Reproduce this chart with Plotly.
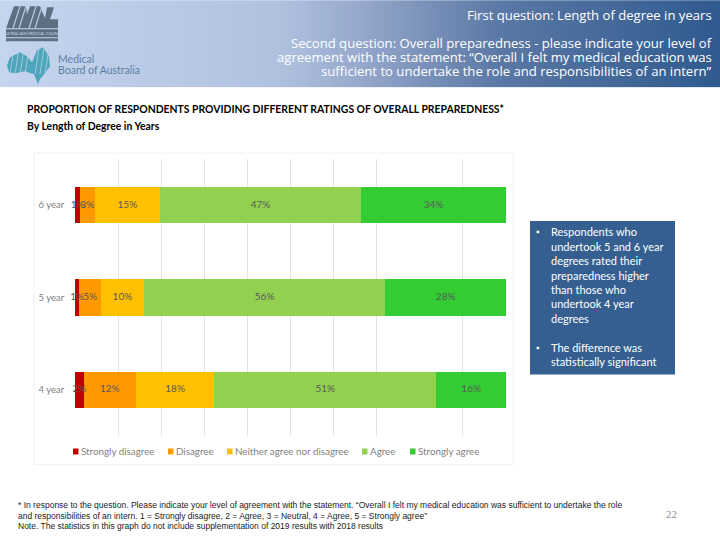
import plotly.graph_objects as go

categories = ["4 year", "5 year", "6 year"]
series_names = ["Strongly disagree", "Disagree", "Neither agree nor disagree", "Agree", "Strongly agree"]
strongly_disagree = [2, 1, 1.2]
disagree = [12, 5, 3.4]
neutral = [18, 10, 15.1]
agree = [51, 56, 46.7]
strongly_agree = [16, 28, 33.6]
series_values = [strongly_disagree, disagree, neutral, agree, strongly_agree]
colors = ["#C00000", "#FF9900", "#FFC000", "#92D050", "#33CC33"]
grid_ticks = [0, 10, 20, 30, 40, 50, 60, 70, 90]

W, H = 720, 540
FONT = "Lato"
L, R, T, B = 75, 506, 159, 436.5

fig = go.Figure()
for name, vals, col in zip(series_names, series_values, colors):
    fig.add_trace(go.Bar(
        y=categories, x=vals, name=name, orientation="h",
        marker=dict(color=col, line=dict(width=0)),
        showlegend=False,
    ))

# value labels sit on top of every bar (they overlap where segments are thin)
totals = [sum(s[i] for s in series_values) for i in range(len(categories))]
running = [0] * len(categories)
for name, vals in zip(series_names, series_values):
    centres = [(running[i] + vals[i] / 2) / totals[i] * 100 for i in range(len(categories))]
    running = [running[i] + vals[i] for i in range(len(categories))]
    fig.add_trace(go.Scatter(
        x=centres, y=categories, mode="text", text=[f"{round(v)}%" for v in vals],
        textposition="middle center", cliponaxis=False, showlegend=False, hoverinfo="skip",
        textfont=dict(family=FONT, size=10, color="#595959"),
    ))

shapes = []
annots = []

def px(x): return (x - L) / (R - L)
def py(y): return (B - y) / (B - T)

def rect(x0, y0, x1, y1, fill, line=None, layer="below"):
    shapes.append(dict(type="rect", xref="paper", yref="paper",
                       x0=px(x0), x1=px(x1), y0=py(y0), y1=py(y1),
                       fillcolor=fill, layer=layer,
                       line=dict(width=1 if line else 0, color=line or fill)))

def text(x, y, s, size=10, color="#000", anchor="left", family=FONT):
    annots.append(dict(xref="paper", yref="paper", x=px(x), y=py(y), text=s,
                       showarrow=False, xanchor=anchor, yanchor="middle",
                       borderpad=0, borderwidth=0,
                       font=dict(family=family, size=size, color=color)))

def svgpath(points, fill):
    d = "M" + " L".join(f"{px(a):.5f},{py(b):.5f}" for a, b in points) + " Z"
    shapes.append(dict(type="path", xref="paper", yref="paper", path=d,
                       fillcolor=fill, line=dict(width=0), layer="below"))

def seg(x0, y0, x1, y1, color, width=1):
    shapes.append(dict(type="line", xref="paper", yref="paper", x0=px(x0), x1=px(x1),
                       y0=py(y0), y1=py(y1), layer="below", line=dict(color=color, width=width)))

# header gradient
stops = [(0, (198, 213, 238)), (280, (176, 193, 224)), (360, (150, 168, 203)),
         (500, (90, 120, 165)), (720, (47, 90, 143))]
def grad(x):
    for (a, ca), (b, cb) in zip(stops, stops[1:]):
        if x <= b:
            t = (x - a) / (b - a)
            return tuple(int(round(p + (q - p) * t)) for p, q in zip(ca, cb))
    return stops[-1][1]
for x in range(0, 720, 4):
    r, g, b = grad(x + 2)
    rect(x, 0, x + 4.5, 87, f"rgb({r},{g},{b})")

# AMC logo
svgpath([(6, 28), (14, 6), (26, 6), (27, 14), (30, 6), (40, 6), (45, 18), (47, 7), (54, 7), (50, 19),
         (58, 19), (58, 28)], "#5F6F82")
for x in (17, 23, 33, 39):
    seg(x - 4, 28, x + 3, 6, "#B8C8E4", 1.2)
rect(6, 29, 58, 37, "#5F6F82")
rect(6, 38, 58, 41, "#5F6F82")
text(32, 33, "AUSTRALIAN MEDICAL COUNCIL", size=4, color="#C5D3EA", anchor="center")
# Medical Board logo
svgpath([(7, 65), (10, 57), (20, 52), (27, 56), (32, 62), (37, 50), (43, 47), (49, 56), (50, 66),
         (45, 73), (40, 79), (38, 84), (34, 74), (25, 71), (15, 73), (9, 72)], "#4FA5BC")
for x in (12, 17, 22, 27, 37, 42, 47):
    seg(x - 2, 74, x + 2, 48, "#B4D2E4", 0.8)
text(58, 59, "Medical", size=10.5, color="#5A7FA5")
text(58, 70, "Board of Australia", size=10.5, color="#5A7FA5")

# header text
HEAD = "Open Sans"
HS = 13.1
text(712, 15, "First question: Length of degree in years", size=HS, color="#FFFFFF", anchor="right", family=HEAD)
text(712, 43, "Second question: Overall preparedness - please indicate your level of", size=HS, color="#FFFFFF", anchor="right", family=HEAD)
text(712, 57, "agreement with the statement: “Overall I felt my medical education was", size=HS, color="#FFFFFF", anchor="right", family=HEAD)
text(712, 71, "sufficient to undertake the role and responsibilities of an intern”", size=HS, color="#FFFFFF", anchor="right", family=HEAD)

# title
text(27, 109, "<b>PROPORTION OF RESPONDENTS PROVIDING DIFFERENT RATINGS OF OVERALL PREPAREDNESS*</b>", size=10.4)
text(27, 126, "<b>By Length of Degree in Years</b>", size=10.4)

# chart frame
rect(34, 153, 513, 465, "#FFFFFF", line="#F0F0F0")

# custom legend
legend_marker_x = [73, 168, 227, 362, 410]
for mx, name, col in zip(legend_marker_x, series_names, colors):
    rect(mx, 449, mx + 5.5, 455, col)
    text(mx + 8, 452, name, size=9.8, color="#7F7F7F")

# side box
rect(530, 221, 675, 375, "#355F91")
bullet_lines = [(232, "Respondents who", True), (247, "undertook 5 and 6 year", False),
                (261, "degrees rated their", False), (276, "preparedness higher", False),
                (290, "than those who", False), (304, "undertook 4 year", False),
                (319, "degrees", False), (348, "The difference was", True),
                (362, "statistically significant", False)]
for y, s, b in bullet_lines:
    text(551, y, s, size=11, color="#FFFFFF")
    if b:
        text(538, y, "▪", size=9, color="#FFFFFF", anchor="center")

# footnote
FOOT = "Liberation Sans"
text(18, 506, "* In response to the question. Please indicate your level of agreement with the statement. “Overall I felt my medical education was sufficient to undertake the role", size=8.5, color="#222222", family=FOOT)
text(18, 517, "and responsibilities of an intern. 1 = Strongly disagree, 2 = Agree, 3 = Neutral, 4 = Agree, 5 = Strongly agree”", size=8.5, color="#222222", family=FOOT)
text(18, 527, "Note. The statistics in this graph do not include supplementation of 2019 results with 2018 results", size=8.5, color="#222222", family=FOOT)
text(671, 515, "22", size=11, color="#8C8C8C", anchor="center", family="Liberation Serif")

fig.update_layout(
    width=W, height=H, barmode="stack", barnorm="percent", bargap=0.605,
    margin=dict(l=L, r=W - R, t=T, b=H - B, autoexpand=False, pad=0),
    paper_bgcolor="#FFFFFF", plot_bgcolor="rgba(0,0,0,0)",
    showlegend=False, shapes=shapes, annotations=annots,
    xaxis=dict(range=[0, 100], tickvals=grid_ticks, showticklabels=False, ticks="",
               showgrid=True, gridcolor="#E3E3E3", gridwidth=1, zeroline=False, showline=False, fixedrange=True),
    yaxis=dict(categoryorder="array", categoryarray=categories, showgrid=False, zeroline=False, showline=False,
               ticks="outside", ticklen=8, tickcolor="rgba(0,0,0,0)", tickfont=dict(family=FONT, size=9.5, color="#7F7F7F"), fixedrange=True),
)
fig.write_html("out.html", config={"displayModeBar": False},
               post_script="document.body.style.margin='0';document.documentElement.style.overflow='hidden';")
